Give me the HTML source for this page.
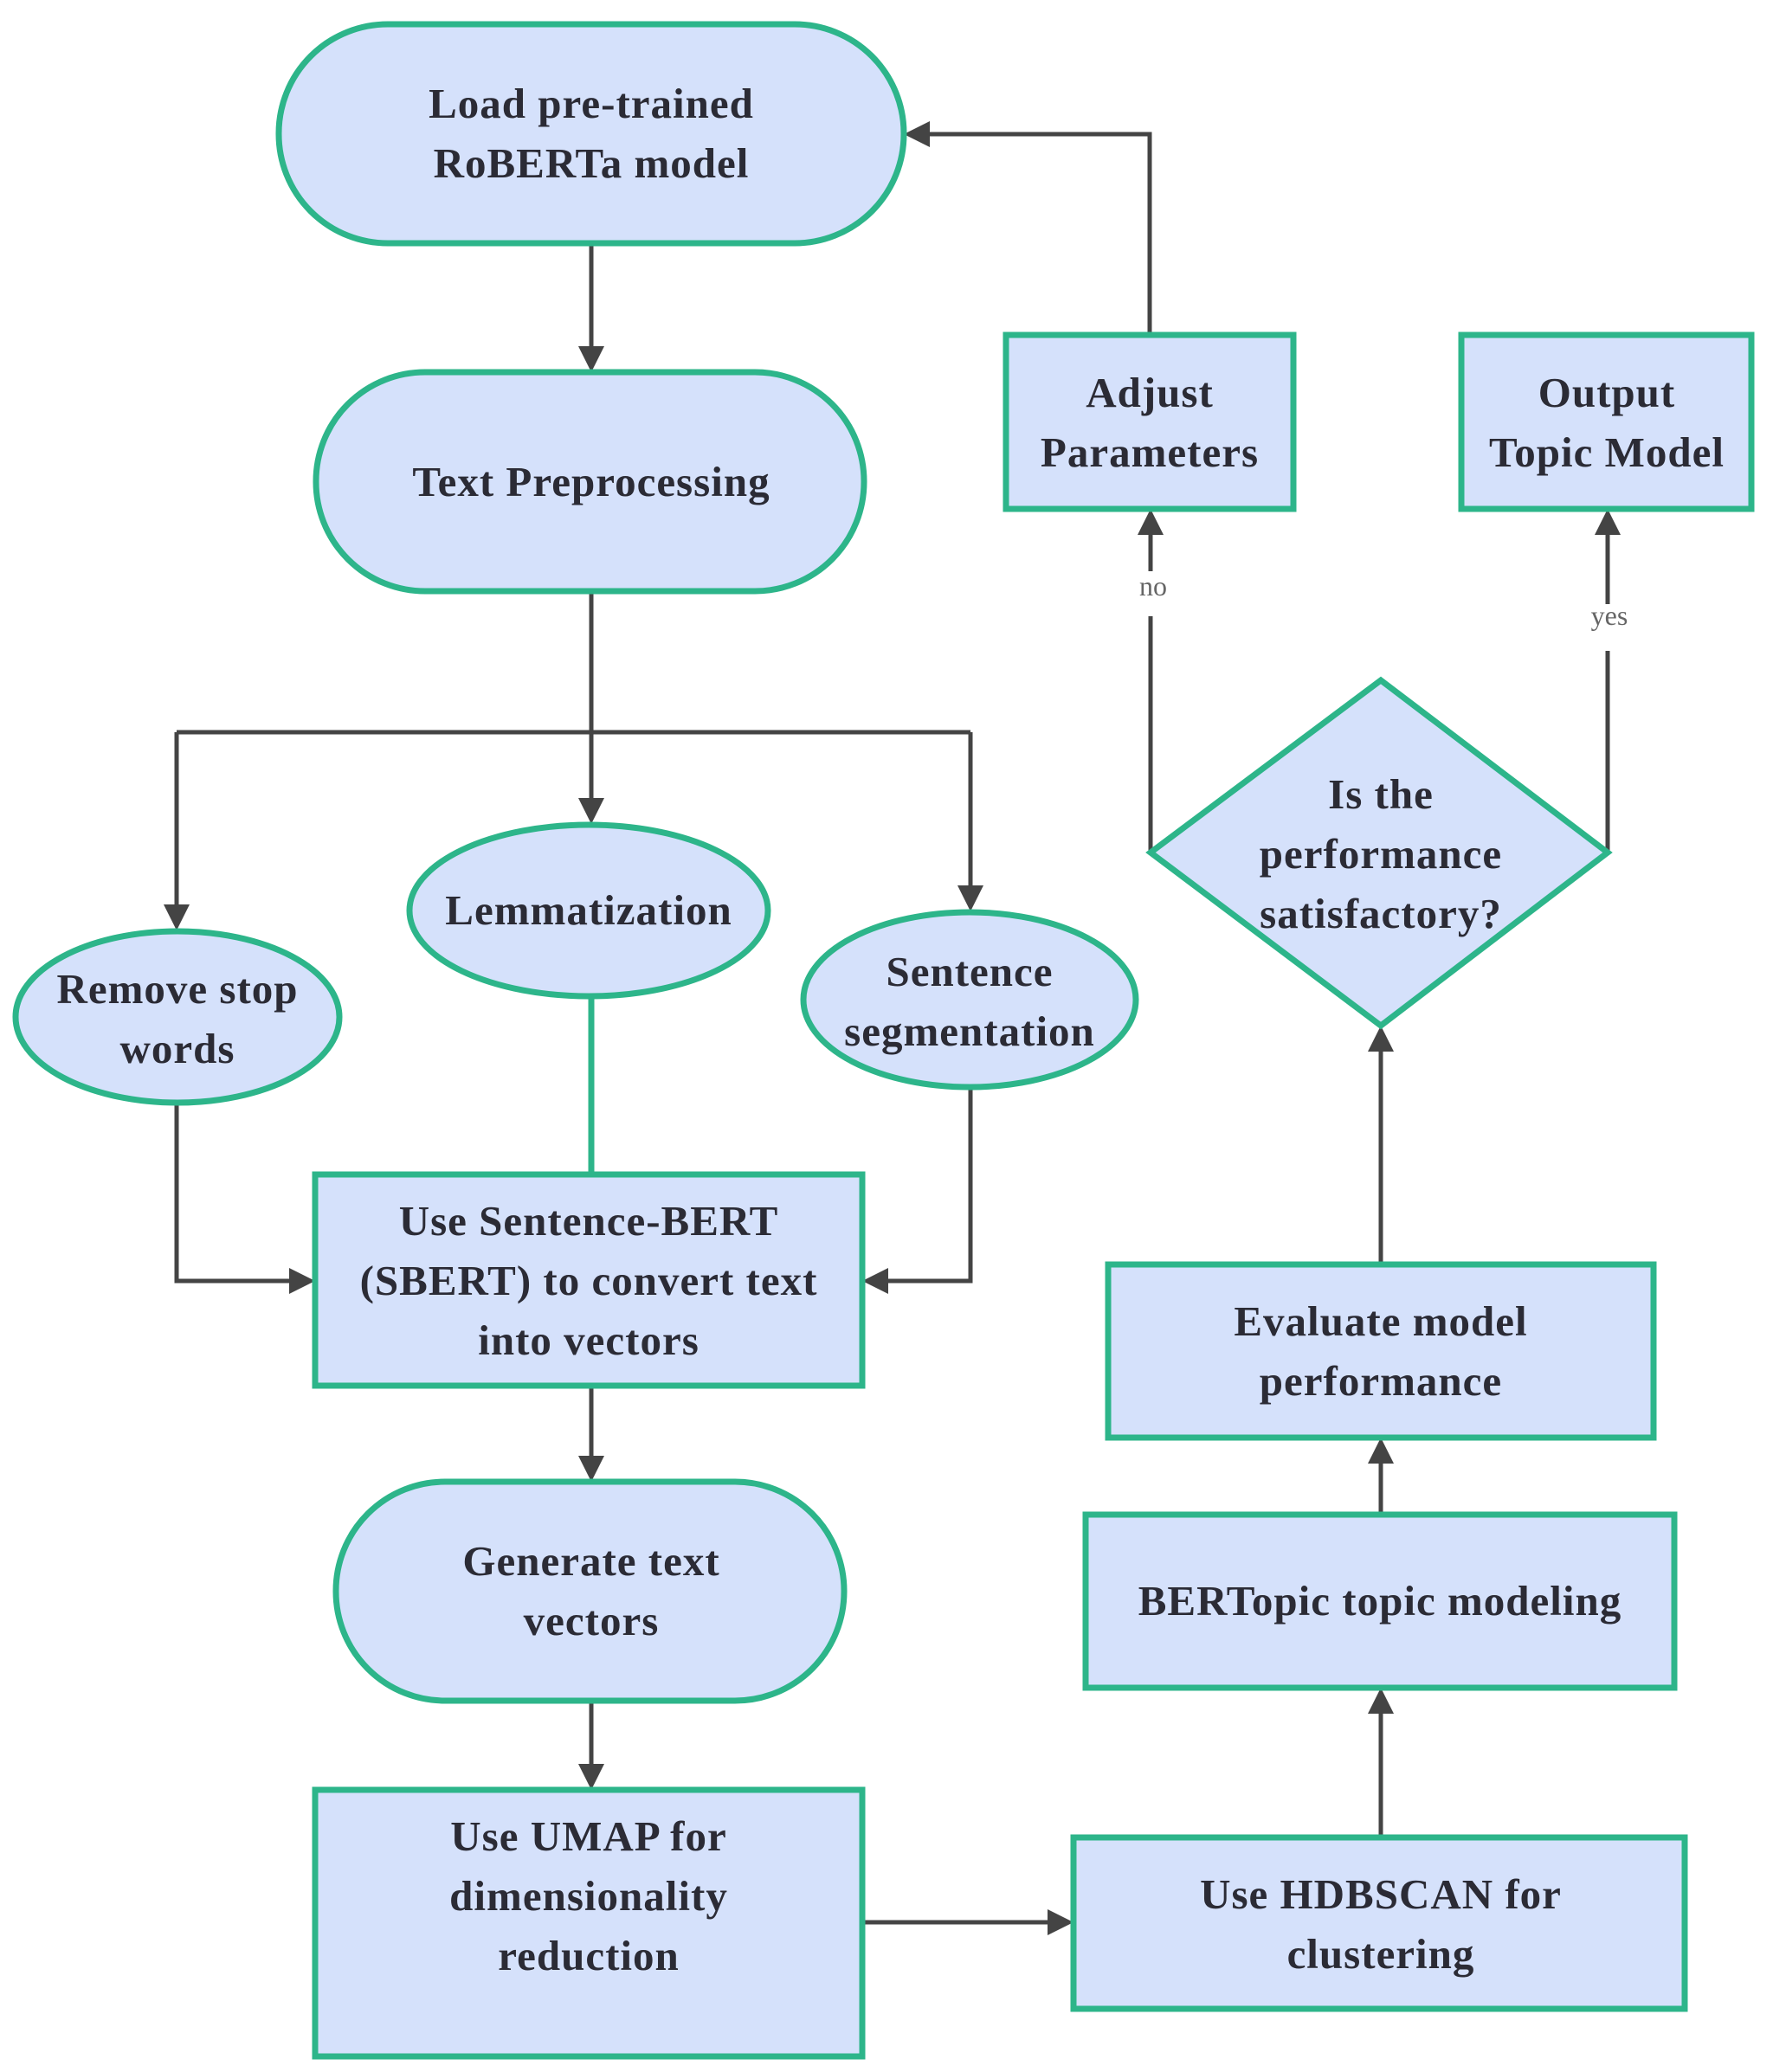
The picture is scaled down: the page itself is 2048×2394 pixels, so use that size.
<!DOCTYPE html>
<html><head><meta charset="utf-8"><style>
html,body{margin:0;padding:0;background:#fff;}
svg{display:block}
text{font-family:"Liberation Serif",serif;font-weight:bold;font-size:49px;fill:#2b2b35;text-anchor:middle;letter-spacing:1px}
.s{fill:#d5e1fb;stroke:#2db58a;stroke-width:7}
.l{stroke:#444;stroke-width:5;fill:none}
.g{stroke:#2db58a;stroke-width:7;fill:none}
.lab{font-weight:normal;font-size:32px;fill:#666;letter-spacing:0}
</style></head><body>
<svg width="2048" height="2394" viewBox="0 0 2048 2394" xmlns="http://www.w3.org/2000/svg">
<defs><marker id="a" markerWidth="6" markerHeight="6" refX="5" refY="3" orient="auto" markerUnits="strokeWidth"><path d="M0,0 L6,3 L0,6 z" fill="#444"/></marker></defs>

<!-- connectors -->
<path class="l" d="M683 281 V425" marker-end="url(#a)"/>
<path class="l" d="M683 683 V947" marker-end="url(#a)"/>
<path class="l" d="M204 846 H1121"/>
<path class="l" d="M204 846 V1070" marker-end="url(#a)"/>
<path class="l" d="M1121 846 V1048" marker-end="url(#a)"/>
<path class="g" d="M683 1151 V1357"/>
<path class="l" d="M204 1274 V1480 H359" marker-end="url(#a)"/>
<path class="l" d="M1121 1256 V1480 H1001" marker-end="url(#a)"/>
<path class="l" d="M683 1601 V1707" marker-end="url(#a)"/>
<path class="l" d="M683 1965 V2063" marker-end="url(#a)"/>
<path class="l" d="M996 2221 H1235" marker-end="url(#a)"/>
<path class="l" d="M1595 2123 V1955" marker-end="url(#a)"/>
<path class="l" d="M1595 1750 V1666" marker-end="url(#a)"/>
<path class="l" d="M1595 1461 V1190" marker-end="url(#a)"/>
<path class="l" d="M1329 985 V712"/>
<path class="l" d="M1329 660 V593" marker-end="url(#a)"/>
<path class="l" d="M1857 985 V752"/>
<path class="l" d="M1857 698 V593" marker-end="url(#a)"/>
<path class="l" d="M1328 387 V155 H1049" marker-end="url(#a)"/>
<text class="lab" x="1332" y="688">no</text>
<text class="lab" x="1859" y="722">yes</text>

<!-- nodes -->
<rect class="s" x="322" y="28" width="722" height="253" rx="126"/>
<text x="683" y="136">Load pre-trained</text><text x="683" y="205">RoBERTa model</text>

<rect class="s" x="365" y="430" width="633" height="253" rx="126"/>
<text x="683" y="573">Text Preprocessing</text>

<ellipse class="s" cx="680" cy="1052" rx="207" ry="99"/>
<text x="680" y="1068">Lemmatization</text>

<ellipse class="s" cx="205" cy="1175" rx="187" ry="99"/>
<text x="205" y="1159">Remove stop</text><text x="205" y="1228">words</text>

<ellipse class="s" cx="1120" cy="1155" rx="192" ry="101"/>
<text x="1120" y="1139">Sentence</text><text x="1120" y="1208">segmentation</text>

<rect class="s" x="364" y="1357" width="632" height="244"/>
<text x="680" y="1427">Use Sentence-BERT</text><text x="680" y="1496">(SBERT) to convert text</text><text x="680" y="1565">into vectors</text>

<rect class="s" x="388" y="1712" width="587" height="253" rx="126"/>
<text x="683" y="1820">Generate text</text><text x="683" y="1889">vectors</text>

<rect class="s" x="364" y="2068" width="632" height="308"/>
<text x="680" y="2138">Use UMAP for</text><text x="680" y="2207">dimensionality</text><text x="680" y="2276">reduction</text>

<rect class="s" x="1240" y="2123" width="706" height="198"/>
<text x="1595" y="2205">Use HDBSCAN for</text><text x="1595" y="2274">clustering</text>

<rect class="s" x="1254" y="1750" width="680" height="200"/>
<text x="1594" y="1866">BERTopic topic modeling</text>

<rect class="s" x="1280" y="1461" width="630" height="200"/>
<text x="1595" y="1543">Evaluate model</text><text x="1595" y="1612">performance</text>

<polygon class="s" points="1595,786 1857,985 1595,1185 1329,985"/>
<text x="1595" y="934">Is the</text><text x="1595" y="1003">performance</text><text x="1595" y="1072">satisfactory?</text>

<rect class="s" x="1162" y="387" width="332" height="201"/>
<text x="1328" y="470">Adjust</text><text x="1328" y="539">Parameters</text>

<rect class="s" x="1688" y="387" width="335" height="201"/>
<text x="1856" y="470">Output</text><text x="1856" y="539">Topic Model</text>
</svg>
</body></html>
